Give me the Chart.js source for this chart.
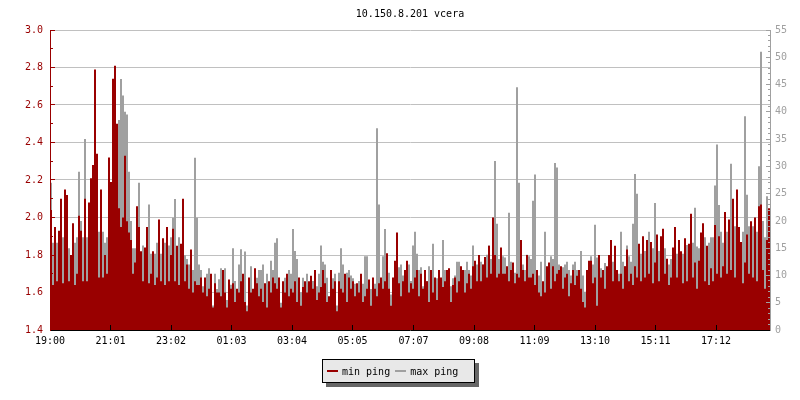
<!DOCTYPE html>
<html>
<head>
<meta charset="utf-8">
<script src="https://cdn.jsdelivr.net/npm/chart.js@4/dist/chart.umd.min.js"></script>
<style>
html,body{margin:0;padding:0;background:#ffffff;}
#wrap{position:relative;width:800px;height:400px;}
canvas{display:block;}
#legend{position:absolute;left:322px;top:359px;width:153px;height:24px;box-sizing:border-box;
  background:#e8e8e8;border:1px solid #000;box-shadow:4px 4px 0 #666666;
  font:10px "DejaVu Sans Mono",monospace;color:#000;display:flex;align-items:center;padding-left:4px;white-space:pre;}
#legend .sw{display:inline-block;width:11px;height:2px;margin-right:4px;}
#legend .it{display:flex;align-items:center;margin-right:5px;}
</style>
</head>
<body>
<div id="wrap">
<canvas id="c" width="800" height="400"></canvas>
<div id="legend"></div>
</div>
<script>
// ---- data (one value every 4 minutes starting 19:00) ----
const chartTitle = '10.150.8.201 vcera';
const startTime = '19:00';
const stepMinutes = 4;
const tickLabels = ['19:00','21:01','23:02','01:03','03:04','05:05','07:07','09:08','11:09','13:10','15:11','17:12'];
const seriesNames = ['min ping', 'max ping'];

// min ping (ms, left axis)
const minPing = [
  2.04,1.64,1.95,1.66,1.93,2.10,1.65,2.15,2.12,1.66,1.80,1.97,1.64,1.70,2.01,
  1.93,1.66,2.10,1.66,2.08,2.21,2.28,2.79,2.34,1.68,2.15,1.68,1.80,1.70,2.32,
  2.19,2.74,2.81,2.50,2.05,1.95,2.00,2.33,1.98,1.92,1.88,1.70,1.76,2.06,1.95,
  1.82,1.66,1.84,1.95,1.65,1.70,1.82,1.64,1.68,1.99,1.66,1.89,1.64,1.95,1.66,
  1.80,1.94,1.66,1.85,1.64,1.86,2.10,1.66,1.75,1.62,1.83,1.60,1.66,1.64,1.64,
  1.68,1.60,1.68,1.58,1.62,1.70,1.52,1.65,1.60,1.60,1.58,1.72,1.60,1.52,1.67,
  1.62,1.65,1.55,1.62,1.60,1.66,1.70,1.55,1.50,1.68,1.60,1.62,1.73,1.65,1.58,
  1.62,1.55,1.65,1.52,1.66,1.60,1.68,1.65,1.62,1.68,1.52,1.66,1.60,1.70,1.58,
  1.62,1.60,1.66,1.55,1.68,1.53,1.63,1.66,1.60,1.66,1.69,1.62,1.72,1.56,1.60,
  1.63,1.72,1.65,1.55,1.58,1.72,1.62,1.66,1.50,1.66,1.62,1.60,1.70,1.55,1.68,
  1.62,1.66,1.58,1.65,1.60,1.70,1.55,1.58,1.62,1.67,1.53,1.68,1.62,1.58,1.65,
  1.68,1.62,1.66,1.81,1.62,1.53,1.68,1.77,1.92,1.65,1.58,1.66,1.72,1.77,1.60,
  1.65,1.62,1.68,1.72,1.58,1.70,1.62,1.72,1.66,1.55,1.72,1.60,1.68,1.56,1.72,
  1.68,1.63,1.66,1.72,1.73,1.55,1.64,1.68,1.60,1.66,1.74,1.72,1.60,1.65,1.70,
  1.62,1.74,1.77,1.66,1.80,1.66,1.75,1.79,1.68,1.85,1.70,2.00,1.80,1.68,1.70,
  1.84,1.70,1.70,1.74,1.66,1.72,1.76,1.65,1.70,1.68,1.88,1.72,1.66,1.80,1.68,
  1.68,1.70,1.64,1.72,1.60,1.58,1.66,1.60,1.74,1.76,1.62,1.74,1.66,1.70,1.72,
  1.74,1.62,1.68,1.70,1.58,1.65,1.72,1.64,1.69,1.72,1.62,1.55,1.52,1.72,1.77,
  1.77,1.65,1.68,1.53,1.80,1.68,1.72,1.62,1.74,1.80,1.88,1.66,1.85,1.72,1.66,
  1.70,1.62,1.74,1.83,1.66,1.70,1.64,1.74,1.68,1.86,1.66,1.90,1.68,1.88,1.70,
  1.87,1.65,1.76,1.91,1.66,1.90,1.94,1.70,1.78,1.64,1.68,1.84,1.95,1.68,1.88,
  1.82,1.65,1.89,1.66,1.86,2.02,1.68,1.76,1.62,1.77,1.92,1.97,1.66,1.85,1.64,
  1.73,1.66,1.96,1.70,1.90,1.68,1.74,2.03,1.70,1.99,1.72,2.10,1.68,2.15,1.95,
  1.87,1.65,1.76,1.91,1.70,1.98,1.68,2.00,1.66,2.06,2.07,1.72,1.62,1.88,2.05
];

// max ping (ms, right axis)
const maxPing = [
  27,16,12,16,11,13,17,12,14,15,13,12,16,17,29,
  20,17,35,17,16,18,17,20,18,18,21,18,16,17,18,
  24,20,46.5,35.5,38.5,46,43,40,39.5,29,20,15,15,13,27,
  12,15.5,12,15.5,23,14,14,14,16,15,14,14,16,13,15.5,
  17,20.6,24,13,17,14,15,13.7,13,12,10,11,31.6,20.6,12,
  11,8,8.5,10.3,11.3,8.6,4.5,10.3,7.5,9.3,11.3,8.6,11.3,5.5,7.5,
  8.3,15,9,5.5,12,14.8,7,14.4,4.5,8.6,11.7,6.2,7,9.6,11,
  11,12,7,10.3,7.5,12.7,11,16,16.8,8,5,7,9.6,7.5,11,
  10.3,18.5,14.5,13,8,6.9,9.6,8.3,10.3,6.9,7.5,9,8.6,8,10.3,
  15.5,12.5,12,9.6,6,10,9.5,10.3,4.5,10.5,15,12,8.5,10.5,11,
  10,9.5,8.5,7.5,9,8,8.5,13.5,13.5,9,7.5,8,8.5,37,23,
  8,13.5,18.5,10,10.5,6.5,9,9.5,11,11.5,12,10,11,9,12,
  9,15.5,18,14,11,11.5,8,10.5,9,11.7,9,15.8,8,9.5,11,
  9,16.5,11,10,9,8,9.5,10,12.5,12.5,10.5,9.5,11,12.5,11,
  10,15.5,11,12,12,12.5,12,13,13.8,15.5,13,14,31,19.5,13,
  13,13.5,13.3,11,21.5,12.5,11,10.5,44.5,27,15,12,11,13.8,13.5,
  13,23.7,28.5,11,10,12.5,8.5,18,11,11.5,13.5,13,30.6,29.8,12,
  11,11.5,12,12.5,11,10,12,12.5,11,10,14.5,10,7,10,9.5,
  13.5,12,19.3,13.3,12,11.3,10,12.3,11,12,12,12.5,13,11,10.3,
  18,12.5,11.7,15.5,13.5,12.5,19.5,28.6,25,15,14,14.5,14.5,13,18,
  13,15,23.3,12,14.5,12,13,15,12,12,13,11,13,14,12,
  10,14,12,15.6,14,13,16,22.4,15.3,15,12,13,17,13,16,
  17,17,26.5,34,22.9,18,16,14,18,14,30.5,20,19,19,16,
  16,18,39.2,24.8,19,17,19,16,18,30,51,20,17,24.5,20
];

// ---- styling ----
const RED = '#990000';
const GRAY = '#a0a0a0';
const GRID = '#c0c0c0';
const FONT = {family: '"DejaVu Sans Mono", monospace', size: 10, weight: 'normal'};

function minutesFromStart(label) {
  const [h, m] = label.split(':').map(Number);
  const [sh, sm] = startTime.split(':').map(Number);
  return ((h * 60 + m) - (sh * 60 + sm) + 1440) % 1440;
}
const tickMinutes = tickLabels.map(minutesFromStart);
const spanMinutes = minPing.length * stepMinutes;
const toPoints = arr => arr.map((v, i) => ({x: i * stepMinutes + stepMinutes / 2, y: v}));

const innerTicks = {
  id: 'innerTicks',
  afterDatasetsDraw(chart) {
    const {ctx, chartArea: a, scales} = chart;
    const al = p => Math.round(p - 0.5) + 0.5;
    ctx.save();
    ctx.lineWidth = 1;
    ctx.strokeStyle = RED;
    const ys = scales.y;
    for (let k = 0; k <= Math.round((ys.max - ys.min) / 0.1); k++) {
      const py = al(ys.getPixelForValue(ys.min + k * 0.1));
      const len = k % 2 === 0 ? 5 : 3;
      ctx.beginPath(); ctx.moveTo(a.left, py); ctx.lineTo(a.left + len, py); ctx.stroke();
    }
    ctx.strokeStyle = GRAY;
    const y1 = scales.y1;
    for (let v = y1.min; v <= y1.max; v++) {
      const py = al(y1.getPixelForValue(v));
      const len = v % 5 === 0 ? 4 : 2;
      ctx.beginPath(); ctx.moveTo(a.right - len, py); ctx.lineTo(a.right, py); ctx.stroke();
    }
    ctx.strokeStyle = '#000';
    const xs = scales.x;
    xs.ticks.forEach(t => {
      const px = al(xs.getPixelForValue(t.value));
      ctx.beginPath(); ctx.moveTo(px, a.bottom - 5); ctx.lineTo(px, a.bottom); ctx.stroke();
    });
    ctx.restore();
  }
};

const chart = new Chart(document.getElementById('c'), {
  type: 'bar',
  data: {
    datasets: [
      {label: seriesNames[0], data: toPoints(minPing), yAxisID: 'y', backgroundColor: RED,
       grouped: false, barPercentage: 1, categoryPercentage: 1, borderWidth: 0, inflateAmount: 0},
      {label: seriesNames[1], data: toPoints(maxPing), yAxisID: 'y1', backgroundColor: GRAY,
       grouped: false, barPercentage: 1, categoryPercentage: 1, borderWidth: 0, inflateAmount: 0}
    ]
  },
  options: {
    responsive: false,
    animation: false,
    devicePixelRatio: 1,
    events: [],
    layout: {padding: 0},
    plugins: {
      legend: {display: false},
      tooltip: {enabled: false},
      title: {display: true, text: chartTitle, color: '#000', font: FONT, fullSize: false,
              padding: {top: 8, bottom: 10}}
    },
    scales: {
      x: {
        type: 'linear', min: 0, max: spanMinutes, offset: false,
        afterBuildTicks: s => { s.ticks = tickMinutes.map(v => ({value: v})); },
        afterFit: s => { s.height = 70; },
        grid: {display: false, drawTicks: false},
        border: {display: true, color: '#000', width: 1, z: 1},
        ticks: {color: '#000', font: FONT, padding: 5, autoSkip: false, maxRotation: 0,
                callback: (v, i) => tickLabels[i]}
      },
      y: {
        position: 'left', min: 1.4, max: 3.0,
        afterFit: s => { s.width = 50; },
        grid: {color: ctx => (ctx.tick && Math.abs(ctx.tick.value - 1.4) < 1e-6) ? 'rgba(0,0,0,0)' : GRID,
               drawTicks: false, lineWidth: 1},
        border: {display: true, color: RED, width: 1, z: 1},
        ticks: {stepSize: 0.2, color: RED, font: FONT, padding: 7, callback: v => Number(v).toFixed(1)}
      },
      y1: {
        position: 'right', min: 0, max: 55,
        afterFit: s => { s.width = 30; },
        grid: {display: false, drawTicks: false},
        border: {display: true, color: GRAY, width: 1, z: 1},
        ticks: {stepSize: 5, color: GRAY, font: FONT, padding: 5}
      }
    }
  },
  plugins: [innerTicks]
});

const lg = document.getElementById('legend');
chart.data.datasets.forEach(ds => {
  const it = document.createElement('span'); it.className = 'it';
  const sw = document.createElement('span'); sw.className = 'sw'; sw.style.background = ds.backgroundColor;
  const tx = document.createElement('span'); tx.textContent = ds.label;
  it.appendChild(sw); it.appendChild(tx); lg.appendChild(it);
});
</script>
</body>
</html>
